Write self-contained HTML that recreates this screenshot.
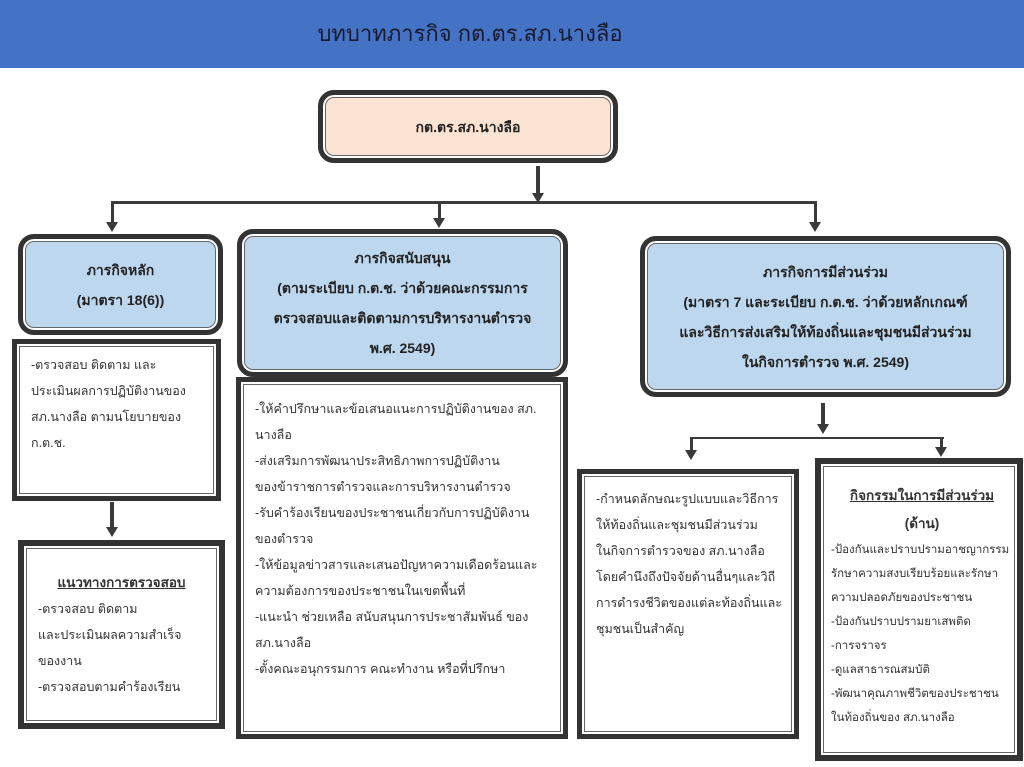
<!DOCTYPE html>
<html><head><meta charset="utf-8"><style>
body{margin:0;width:1024px;height:767px;position:relative;background:#fff;overflow:hidden;font-family:"Liberation Sans","DejaVu Sans","Noto Sans CJK SC",sans-serif;color:#222}
.hdr{position:absolute;left:0;top:0;width:1024px;height:68px;background:#4472c4}
.hdr div{position:absolute;left:250px;width:440px;top:16px;text-align:center;font-size:22px;color:#1a1a2e}
.b{position:absolute;box-sizing:border-box;border:5px solid #333;box-shadow:inset 0 0 0 2px #fff,inset 0 0 0 3px #666}
.r{border-radius:16px;background:#bdd7ee}
.c{text-align:center;font-weight:bold;font-size:14px;line-height:30px;display:flex;flex-direction:column;justify-content:center}
.t{font-size:12.5px;line-height:26px;padding:8px 14px;background:#fff;color:#333;white-space:nowrap}
.l{position:absolute;background:#3a3a3a}
.a{position:absolute;width:0;height:0;border-left:6px solid transparent;border-right:6px solid transparent;border-top:10px solid #3a3a3a}
u{text-decoration:underline}
</style></head><body>
<div class="hdr"><div>บทบาทภารกิจ กต.ตร.สภ.นางลือ</div></div>

<div class="b r c" style="left:318px;top:90px;width:300px;height:73px;background:#fbe3d4">กต.ตร.สภ.นางลือ</div>

<div class="l" style="left:536px;top:166px;width:4px;height:30px"></div><div class="a" style="left:532px;top:193px"></div>
<div class="l" style="left:111px;top:201px;width:706px;height:3px"></div>
<div class="l" style="left:111px;top:201px;width:3px;height:24px"></div><div class="a" style="left:106px;top:222px"></div>
<div class="l" style="left:438px;top:201px;width:3px;height:20px"></div><div class="a" style="left:433px;top:218px"></div>
<div class="l" style="left:814px;top:201px;width:3px;height:24px"></div><div class="a" style="left:809px;top:222px"></div>

<div class="b r c" style="left:18px;top:234px;width:205px;height:101px">ภารกิจหลัก<br>(มาตรา 18(6))</div>
<div class="b r c" style="left:237px;top:229px;width:331px;height:148px">ภารกิจสนับสนุน<br>(ตามระเบียบ ก.ต.ช. ว่าด้วยคณะกรรมการ<br>ตรวจสอบและติดตามการบริหารงานตำรวจ<br>พ.ศ. 2549)</div>
<div class="b r c" style="left:640px;top:236px;width:371px;height:161px">ภารกิจการมีส่วนร่วม<br>(มาตรา 7 และระเบียบ ก.ต.ช. ว่าด้วยหลักเกณฑ์<br>และวิธีการส่งเสริมให้ท้องถิ่นและชุมชนมีส่วนร่วม<br>ในกิจการตำรวจ พ.ศ. 2549)</div>

<div class="b t" style="left:12px;top:339px;width:209px;height:162px">-ตรวจสอบ ติดตาม และ<br>ประเมินผลการปฏิบัติงานของ<br>สภ.นางลือ ตามนโยบายของ<br>ก.ต.ช.</div>
<div class="l" style="left:110px;top:502px;width:4px;height:26px"></div><div class="a" style="left:106px;top:527px"></div>
<div class="b t" style="left:18px;top:540px;width:207px;height:189px;border-width:6px;padding-top:24px">
<div style="text-align:center;font-weight:bold;font-size:13.5px"><u>แนวทางการตรวจสอบ</u></div>-ตรวจสอบ ติดตาม<br>และประเมินผลความสำเร็จ<br>ของงาน<br>-ตรวจสอบตามคำร้องเรียน</div>

<div class="b t" style="left:236px;top:377px;width:332px;height:362px;padding-top:14px">-ให้คำปรึกษาและข้อเสนอแนะการปฏิบัติงานของ สภ.<br>นางลือ<br>-ส่งเสริมการพัฒนาประสิทธิภาพการปฏิบัติงาน<br>ของข้าราชการตำรวจและการบริหารงานตำรวจ<br>-รับคำร้องเรียนของประชาชนเกี่ยวกับการปฏิบัติงาน<br>ของตำรวจ<br>-ให้ข้อมูลข่าวสารและเสนอปัญหาความเดือดร้อนและ<br>ความต้องการของประชาชนในเขตพื้นที่<br>-แนะนำ ช่วยเหลือ สนับสนุนการประชาสัมพันธ์ ของ<br>สภ.นางลือ<br>-ตั้งคณะอนุกรรมการ คณะทำงาน หรือที่ปรึกษา</div>

<div class="l" style="left:821px;top:403px;width:4px;height:22px"></div><div class="a" style="left:817px;top:424px"></div>
<div class="l" style="left:691px;top:437px;width:253px;height:2px"></div>
<div class="l" style="left:690px;top:437px;width:3px;height:14px"></div><div class="a" style="left:685px;top:450px"></div>
<div class="l" style="left:940px;top:437px;width:3px;height:12px"></div><div class="a" style="left:935px;top:447px"></div>

<div class="b t" style="left:577px;top:469px;width:222px;height:270px;padding-top:12px">-กำหนดลักษณะรูปแบบและวิธีการ<br>ให้ท้องถิ่นและชุมชนมีส่วนร่วม<br>ในกิจการตำรวจของ สภ.นางลือ<br>โดยคำนึงถึงปัจจัยด้านอื่นๆและวิถี<br>การดำรงชีวิตของแต่ละท้องถิ่นและ<br>ชุมชนเป็นสำคัญ</div>
<div class="b t" style="left:815px;top:458px;width:208px;height:303px;padding:18px 4px 8px 10px;font-size:11.5px;line-height:24px;border-width:6px">
<div style="text-align:center;font-weight:bold;font-size:13.5px;line-height:28px"><u>กิจกรรมในการมีส่วนร่วม</u><br>(ด้าน)</div>-ป้องกันและปราบปรามอาชญากรรม<br>รักษาความสงบเรียบร้อยและรักษา<br>ความปลอดภัยของประชาชน<br>-ป้องกันปราบปรามยาเสพติด<br>-การจราจร<br>-ดูแลสาธารณสมบัติ<br>-พัฒนาคุณภาพชีวิตของประชาชน<br>ในท้องถิ่นของ สภ.นางลือ</div>
</body></html>
